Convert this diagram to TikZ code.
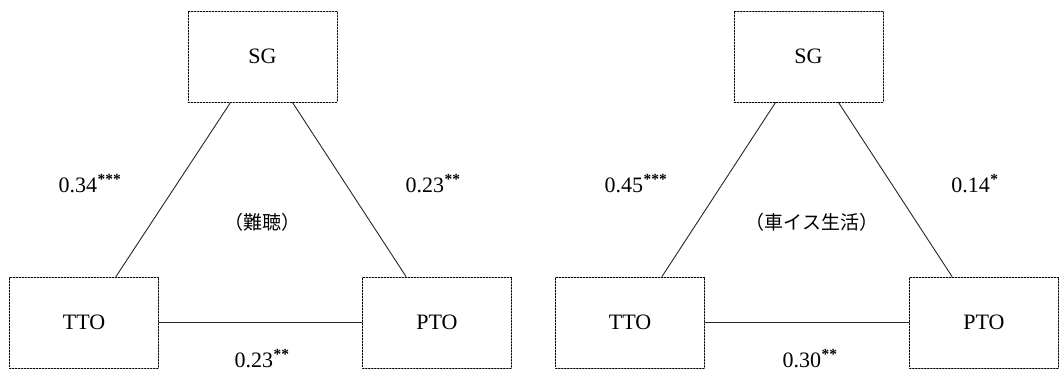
\documentclass[tikz,border=0pt]{standalone}
\usepackage{fontspec}
\setmainfont{Liberation Serif}
\newfontfamily\cjk{Noto Sans CJK JP}
\usetikzlibrary{positioning}
\newcommand{\sig}[1]{\textsuperscript{\kern.5pt\bfseries#1}}
\tikzset{
 tri/.style={font=\fontsize{22}{25}\selectfont,line cap=round,line join=round},
 scale box/.style={rectangle,draw=black,dash pattern=on 1.5pt off 1.5pt,line width=1pt,minimum width=149pt,minimum height=91pt,inner sep=0pt},
 link/.style={draw=black!85,line width=.9pt},
 coef/.style={anchor=base,inner sep=0pt},
 group/.style={font=\cjk\fontsize{19}{22}\selectfont,inner sep=0pt}
}
\begin{document}
\begin{tikzpicture}[tri,x=1pt,y=-1pt]
 \useasboundingbox (0,0) rectangle (1059,373);
 % left panel
 \node[scale box] (sgL) at (262.5,56.5) {SG};
 \node[scale box] (ttoL) at (84,322.5) {TTO};
 \node[scale box] (ptoL) at (437,322.5) {PTO};
 \draw[link] ([xshift=-32pt]sgL.south) -- ([xshift=32pt]ttoL.north);
 \draw[link] ([xshift=30pt]sgL.south) -- ([xshift=-31pt]ptoL.north);
 \draw[link] (ttoL.east) -- (ptoL.west);
 \node[coef] (cL1) at (90,192) {0.34\sig{***}};
 \node[coef] (cL2) at (433,192) {0.23\sig{**}};
 \node[coef] (cL3) at (262,367) {0.23\sig{**}};
 \node[group] (gL) at (262,222) {（難聴）};
 % right panel
 \node[scale box] (sgR) at (808.5,56.5) {SG};
 \node[scale box] (ttoR) at (630,322.5) {TTO};
 \node[scale box] (ptoR) at (984,322.5) {PTO};
 \draw[link] ([xshift=-33pt]sgR.south) -- ([xshift=32pt]ttoR.north);
 \draw[link] ([xshift=30pt]sgR.south) -- ([xshift=-32pt]ptoR.north);
 \draw[link] (ttoR.east) -- (ptoR.west);
 \node[coef] (cR1) at (636,192) {0.45\sig{***}};
 \node[coef] (cR2) at (975,192) {0.14\sig{*}};
 \node[coef] (cR3) at (810,367) {0.30\sig{**}};
 \node[group] (gR) at (812,222) {（車イス生活）};
\end{tikzpicture}
\end{document}
